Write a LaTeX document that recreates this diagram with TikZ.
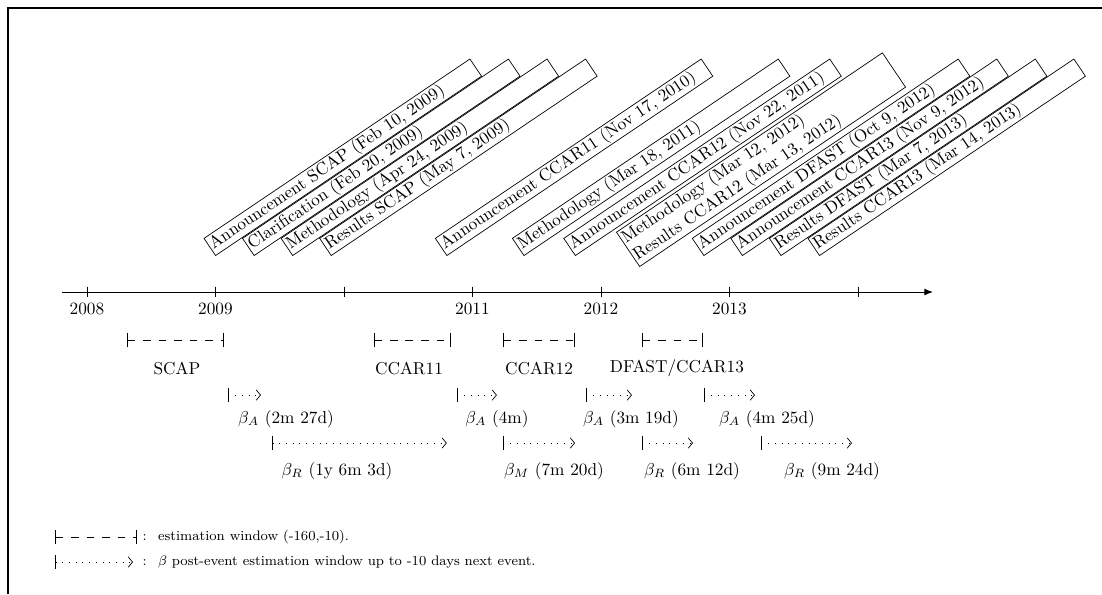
\documentclass[tikz,border=0pt]{standalone}
\usepackage{amsmath, amssymb}
\usepackage{tikz}
\usetikzlibrary{arrows.meta}

\begin{document}
\begin{tikzpicture}[x=2.619cm, y=1cm,
		event/.style={draw, rotate=34, anchor=south west, inner sep=1pt, text width=184pt, align=left},
		estwin/.style={{Bar[width=8.5pt]}-{Bar[width=8.5pt]}, dash pattern=on 4.5pt off 4.5pt},
		postwin/.style={{Bar[width=8pt]}-{Straight Barb[length=2.5pt,width=6pt]}, dash pattern=on 0.5pt off 3.4pt},
		lbl/.style={inner sep=0pt},
		legtext/.style={inner sep=0pt, anchor=west, font=\footnotesize}
		]
		\useasboundingbox (-0.677,-6.156) rectangle (7.899,5.952);
		\draw[line width=0.8pt] (-0.615,-6.156) |- (7.899,5.789);
		
		\draw[-{Latex[length=5pt,width=4pt]}, line width=0.6pt] (-0.195,0) -- (6.584,0);
		\foreach \t in {0,...,6} \draw (\t,0.11) -- (\t,-0.11);
		\foreach \t/\yr in {0/2008,1/2009,3/2011,4/2012,5/2013}
			\node[lbl] (y\yr) at (\t,-0.347) {\yr};
		
		\node[event] (annSCAP) at (1.0,0.734) {Announcement SCAP (Feb 10, 2009)};
		\node[event] (clarSCAP) at (1.3,0.734) {Clarification (Feb 20, 2009)};
		\node[event] (methSCAP) at (1.6,0.734) {Methodology (Apr 24, 2009)};
		\node[event] (resSCAP) at (1.9,0.734) {Results SCAP (May 7, 2009)};
		\node[event] (annEleven) at (2.8,0.734) {Announcement CCAR11 (Nov 17, 2010)};
		\node[event] (methEleven) at (3.4,0.734) {Methodology (Mar 18, 2011)};
		\node[event] (annTwelve) at (3.8,0.734) {Announcement CCAR12 (Nov 22, 2011)};
		\node[event] (resTwelve) at (4.3,0.51) {Methodology (Mar 12, 2012)\\ Results CCAR12 (Mar 13, 2012)};
		\node[event] (annDFAST) at (4.8,0.734) {Announcement DFAST (Oct 9, 2012)};
		\node[event] (annThirteen) at (5.1,0.734) {Announcement CCAR13 (Nov 9, 2012)};
		\node[event] (resDFAST) at (5.4,0.734) {Results DFAST (Mar 7, 2013)};
		\node[event] (resThirteen) at (5.7,0.734) {Results CCAR13 (Mar 14, 2013)};
		
		\foreach \a/\b in {0.311/1.066, 2.233/2.833, 3.237/3.798, 4.319/4.794}
			\draw[estwin] (\a,-0.978) -- (\b,-0.978);
		\node[lbl] (wSCAP) at (0.70,-1.549) {SCAP};
		\node[lbl] (wEleven) at (2.506,-1.549) {CCAR11};
		\node[lbl] (wTwelve) at (3.518,-1.549) {CCAR12};
		\node[lbl] (wThirteen) at (4.591,-1.549) {DFAST/CCAR13};
		
		\foreach \a/\b in {1.097/1.354, 2.879/3.19, 3.883/4.241, 4.80/5.198}
			\draw[postwin] (\a,-2.10) -- (\b,-2.10);
		\node[lbl] (bA1) at (1.549,-2.589) {$\beta_A$ (2m 27d)};
		\node[lbl] (bA2) at (3.19,-2.589) {$\beta_A$ (4m)};
		\node[lbl] (bA3) at (4.233,-2.589) {$\beta_A$ (3m 19d)};
		\node[lbl] (bA4) at (5.292,-2.589) {$\beta_A$ (4m 25d)};
		
		\foreach \a/\b in {1.44/2.80, 3.237/3.798, 4.319/4.716, 5.245/5.953}
			\draw[postwin] (\a,-3.078) -- (\b,-3.078);
		\node[lbl] (bR1) at (1.946,-3.649) {$\beta_R$ (1y 6m 3d)};
		\node[lbl] (bM2) at (3.634,-3.649) {$\beta_M$ (7m 20d)};
		\node[lbl] (bR3) at (4.708,-3.649) {$\beta_R$ (6m 12d)};
		\node[lbl] (bR4) at (5.798,-3.649) {$\beta_R$ (9m 24d)};
		
		\draw[estwin] (-0.249,-4.994) -- (0.389,-4.994);
		\node[legtext] (legEst) at (0.43,-4.994) {: \ estimation window (-160,-10).};
		\draw[postwin] (-0.249,-5.504) -- (0.358,-5.504);
		\node[legtext] (legPost) at (0.43,-5.504) {: \ $\beta$ post-event estimation window up to -10 days next event.};
\end{tikzpicture}
\end{document}
